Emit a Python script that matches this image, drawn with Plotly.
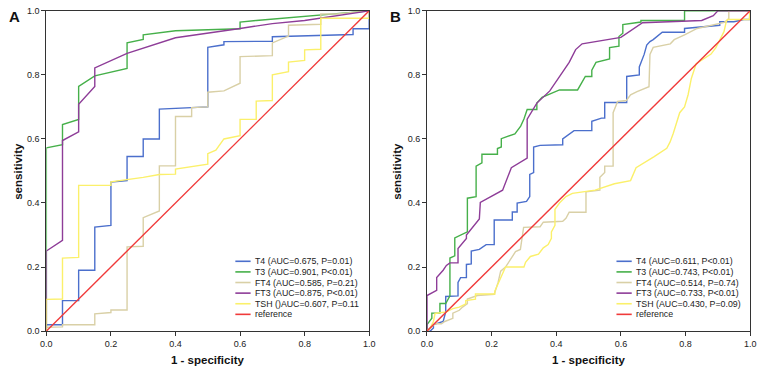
import plotly.graph_objects as go

# ---------------- data (fpr, tpr) ----------------
SERIES = ["T4", "T3", "FT4", "FT3", "TSH"]

A_T4 = [(0, 0), (0, 0.02), (0.05, 0.02), (0.05, 0.095), (0.10, 0.095), (0.10, 0.19), (0.15, 0.19),
        (0.15, 0.325), (0.20, 0.33), (0.20, 0.465), (0.25, 0.47), (0.25, 0.545), (0.30, 0.545),
        (0.30, 0.60), (0.35, 0.60), (0.35, 0.693), (0.50, 0.70), (0.50, 0.886), (0.55, 0.894),
        (0.55, 0.904), (0.70, 0.905), (0.70, 0.919), (0.95, 0.926), (0.95, 0.944), (1.0, 0.944), (1.0, 1.0)]
A_T3 = [(0, 0), (0, 0.572), (0.05, 0.582), (0.05, 0.645), (0.10, 0.661), (0.10, 0.764), (0.15, 0.797),
        (0.25, 0.82), (0.25, 0.90), (0.30, 0.911), (0.30, 0.925), (0.40, 0.938), (0.60, 0.944),
        (0.60, 0.965), (0.65, 0.970), (0.70, 0.974), (0.85, 0.988), (1.0, 1.0)]
A_FT4 = [(0, 0), (0, 0.012), (0.05, 0.013), (0.05, 0.02), (0.15, 0.02), (0.15, 0.054), (0.20, 0.058),
         (0.20, 0.066), (0.25, 0.066), (0.25, 0.263), (0.30, 0.265), (0.30, 0.354), (0.35, 0.375),
         (0.35, 0.516), (0.40, 0.516), (0.40, 0.67), (0.45, 0.67), (0.45, 0.698), (0.50, 0.70),
         (0.50, 0.746), (0.55, 0.75), (0.60, 0.774), (0.60, 0.857), (0.70, 0.86), (0.70, 0.90),
         (0.75, 0.921), (0.75, 0.955), (0.85, 0.958), (0.85, 0.99), (0.90, 0.99), (1.0, 1.0)]
A_FT3 = [(0, 0), (0, 0.25), (0.05, 0.283), (0.05, 0.595), (0.10, 0.622), (0.10, 0.708), (0.15, 0.764),
         (0.15, 0.822), (0.25, 0.867), (0.40, 0.916), (0.60, 0.945), (0.70, 0.96), (0.80, 0.97),
         (0.90, 0.985), (1.0, 1.0)]
A_TSH = [(0, 0), (0, 0.099), (0.05, 0.10), (0.05, 0.228), (0.10, 0.23), (0.10, 0.455), (0.20, 0.455),
         (0.20, 0.466), (0.30, 0.48), (0.35, 0.489), (0.40, 0.49), (0.40, 0.506), (0.50, 0.521),
         (0.50, 0.554), (0.525, 0.565), (0.55, 0.60), (0.60, 0.61), (0.60, 0.661), (0.65, 0.661),
         (0.65, 0.718), (0.70, 0.72), (0.70, 0.80), (0.75, 0.81), (0.75, 0.84), (0.80, 0.845),
         (0.80, 0.878), (0.85, 0.88), (0.85, 0.977), (1.0, 0.977), (1.0, 1.0)]

B_T4 = [(0, 0), (0.01, 0), (0.02, 0.01), (0.02, 0.02), (0.05, 0.03), (0.058, 0.06), (0.058, 0.108),
        (0.096, 0.11), (0.096, 0.152), (0.104, 0.167), (0.122, 0.167), (0.122, 0.208), (0.137, 0.21),
        (0.137, 0.25), (0.162, 0.255), (0.183, 0.27), (0.208, 0.27), (0.208, 0.347), (0.264, 0.347),
        (0.264, 0.372), (0.279, 0.372), (0.279, 0.40), (0.308, 0.405), (0.318, 0.42), (0.318, 0.489),
        (0.33, 0.495), (0.33, 0.575), (0.35, 0.58), (0.42, 0.582), (0.42, 0.60), (0.455, 0.626),
        (0.51, 0.626), (0.51, 0.655), (0.54, 0.665), (0.55, 0.665), (0.55, 0.714), (0.618, 0.714),
        (0.618, 0.795), (0.657, 0.80), (0.657, 0.825), (0.672, 0.864), (0.68, 0.893), (0.69, 0.904),
        (0.70, 0.91), (0.728, 0.933), (0.797, 0.933), (0.797, 0.945), (0.85, 0.95), (0.906, 0.955),
        (0.906, 0.966), (0.95, 0.966), (0.98, 0.973), (1.0, 0.973), (1.0, 1.0)]
B_T3 = [(0, 0), (0, 0.02), (0.015, 0.04), (0.015, 0.056), (0.04, 0.056), (0.04, 0.086), (0.058, 0.086),
        (0.071, 0.11), (0.071, 0.228), (0.086, 0.235), (0.086, 0.291), (0.125, 0.31), (0.125, 0.415),
        (0.152, 0.42), (0.152, 0.515), (0.17, 0.525), (0.17, 0.552), (0.218, 0.552), (0.218, 0.57),
        (0.23, 0.575), (0.23, 0.601), (0.272, 0.616), (0.29, 0.64), (0.30, 0.662), (0.31, 0.692),
        (0.34, 0.692), (0.34, 0.712), (0.356, 0.73), (0.41, 0.753), (0.466, 0.753), (0.49, 0.795),
        (0.51, 0.795), (0.51, 0.815), (0.523, 0.839), (0.565, 0.85), (0.565, 0.885), (0.594, 0.89),
        (0.594, 0.92), (0.606, 0.93), (0.606, 0.957), (0.662, 0.965), (0.662, 0.97), (0.797, 0.97),
        (0.797, 1.0), (1.0, 1.0)]
B_FT4 = [(0, 0), (0.01, 0.01), (0.025, 0.023), (0.045, 0.023), (0.055, 0.03), (0.08, 0.04),
         (0.08, 0.056), (0.1, 0.065), (0.11, 0.075), (0.125, 0.086), (0.125, 0.10), (0.156, 0.111),
         (0.208, 0.115), (0.22, 0.152), (0.228, 0.187), (0.243, 0.20), (0.259, 0.223), (0.274, 0.248),
         (0.289, 0.255), (0.299, 0.324), (0.35, 0.326), (0.36, 0.34), (0.42, 0.343), (0.43, 0.352),
         (0.44, 0.371), (0.492, 0.371), (0.492, 0.435), (0.535, 0.44), (0.535, 0.48), (0.55, 0.495),
         (0.55, 0.515), (0.576, 0.515), (0.576, 0.682), (0.59, 0.717), (0.617, 0.72), (0.63, 0.738),
         (0.65, 0.748), (0.66, 0.752), (0.687, 0.763), (0.69, 0.864), (0.70, 0.886), (0.753, 0.897),
         (0.765, 0.91), (0.797, 0.925), (0.836, 0.945), (0.92, 0.964), (0.934, 0.975), (0.934, 1.0),
         (1.0, 1.0)]
B_FT3 = [(0, 0), (0, 0.111), (0.03, 0.127), (0.03, 0.167), (0.05, 0.19), (0.06, 0.205), (0.071, 0.213),
         (0.096, 0.213), (0.096, 0.258), (0.122, 0.289), (0.122, 0.30), (0.137, 0.319), (0.162, 0.35),
         (0.165, 0.402), (0.234, 0.44), (0.261, 0.51), (0.31, 0.54), (0.31, 0.662), (0.34, 0.712),
         (0.38, 0.75), (0.41, 0.793), (0.44, 0.839), (0.46, 0.879), (0.48, 0.897), (0.60, 0.917),
         (0.667, 0.963), (0.85, 0.97), (0.886, 0.985), (0.90, 1.0), (1.0, 1.0)]
B_TSH = [(0, 0), (0.01, 0.01), (0.02, 0.03), (0.025, 0.055), (0.06, 0.06), (0.08, 0.07), (0.10, 0.075),
         (0.12, 0.085), (0.12, 0.095), (0.15, 0.10), (0.15, 0.116), (0.21, 0.116), (0.21, 0.125),
         (0.225, 0.16), (0.234, 0.182), (0.243, 0.20), (0.30, 0.20), (0.305, 0.215), (0.32, 0.233),
         (0.345, 0.24), (0.36, 0.26), (0.375, 0.27), (0.385, 0.29), (0.385, 0.31), (0.396, 0.33),
         (0.396, 0.38), (0.41, 0.40), (0.42, 0.41), (0.43, 0.42), (0.45, 0.43), (0.49, 0.435),
         (0.52, 0.44), (0.58, 0.46), (0.63, 0.47), (0.647, 0.51), (0.672, 0.525), (0.703, 0.545),
         (0.742, 0.571), (0.752, 0.59), (0.762, 0.617), (0.782, 0.682), (0.797, 0.70), (0.808, 0.738),
         (0.818, 0.789), (0.833, 0.835), (0.879, 0.865), (0.894, 0.885), (0.904, 0.905), (0.919, 0.935),
         (0.926, 0.966), (0.93, 0.973), (0.997, 0.973), (1.0, 1.0)]

REFERENCE = [(0, 0), (1, 1)]

LEGEND_A = ["T4 (AUC=0.675, P=0.01)", "T3 (AUC=0.901, P<0.01)", "FT4 (AUC=0.585, P=0.21)",
            "FT3 (AUC=0.875, P<0.01)", "TSH ()AUC=0.607, P=0.11", "reference"]
LEGEND_B = ["T4 (AUC=0.611, P<0.01)", "T3 (AUC=0.743, P<0.01)", "FT4 (AUC=0.514, P=0.74)",
            "FT3 (AUC=0.733, P<0.01)", "TSH (AUC=0.430, P=0.09)", "reference"]

TICKS = [0.0, 0.2, 0.4, 0.6, 0.8, 1.0]
TICK_LABELS = ["0.0", "0.2", "0.4", "0.6", "0.8", "1.0"]

COLORS = ["#4b6fcc", "#46b04a", "#d9d0a6", "#8e3d98", "#fbf06a", "#f03a3a"]

# ---------------- figure ----------------
W, H = 765, 376
FONT = "Liberation Sans, Arial, sans-serif"
fig = go.Figure()

panels = [
    ("x", "y", [A_T4, A_T3, A_FT4, A_FT3, A_TSH], LEGEND_A),
    ("x2", "y2", [B_T4, B_T3, B_FT4, B_FT3, B_TSH], LEGEND_B),
]
for xa, ya, curves, _ in panels:
    for pts, col in zip(curves + [REFERENCE], COLORS):
        fig.add_trace(go.Scatter(
            x=[p[0] for p in pts], y=[p[1] for p in pts], mode="lines",
            line=dict(color=col, width=1.4), xaxis=xa, yaxis=ya,
            showlegend=False, hoverinfo="skip"))

# domains in pixels
XA = (41, 369)
XB = (427.7, 756)
YT, YB = 6, 335


def px(v):
    return v / W


def py(v):
    return 1 - v / H


axis_common = dict(range=[0, 1], showgrid=False, zeroline=False, showline=True, mirror=True,
                   linecolor="#333333", linewidth=1, ticks="outside", ticklen=4, tickcolor="#333333",
                   tickvals=TICKS, ticktext=TICK_LABELS, tickfont=dict(family=FONT, size=9, color="#222222"),
                   fixedrange=True)

fig.update_layout(
    width=W, height=H, margin=dict(l=0, r=0, t=0, b=0),
    paper_bgcolor="white", plot_bgcolor="white", showlegend=False,
    xaxis=dict(domain=[px(XA[0]), px(XA[1])], anchor="y", **axis_common),
    yaxis=dict(domain=[py(YB), py(YT)], anchor="x", **axis_common),
    xaxis2=dict(domain=[px(XB[0]), px(XB[1])], anchor="y2", **axis_common),
    yaxis2=dict(domain=[py(YB), py(YT)], anchor="x2", **axis_common),
)

ann = []
shapes = []
for (x0, x1), label, legend, ycx in [(XA, "A", LEGEND_A, 12), (XB, "B", LEGEND_B, 397)]:
    cx = (x0 + x1) / 2
    ann.append(dict(x=px(cx), y=py(365), xref="paper", yref="paper", text="<b>1 - specificity</b>",
                    showarrow=False, font=dict(family=FONT, size=11.5, color="#111111"),
                    xanchor="center", yanchor="middle"))
    ann.append(dict(x=px(ycx), y=py((YT + YB) / 2), xref="paper", yref="paper", text="<b>sensitivity</b>",
                    showarrow=False, textangle=-90, font=dict(family=FONT, size=11.5, color="#111111"),
                    xanchor="center", yanchor="middle"))
    ann.append(dict(x=px(x0 - 32), y=py(12), xref="paper", yref="paper", text="<b>%s</b>" % label,
                    showarrow=False, font=dict(family=FONT, size=15, color="#111111"),
                    xanchor="center", yanchor="middle"))
    # legend (drawn compactly as in the original)
    sw0 = x0 + (192 if label == "A" else 192.5)
    for i, (txt, col) in enumerate(zip(legend, COLORS)):
        yy = 263.3 + i * 10.9
        shapes.append(dict(type="line", xref="paper", yref="paper", x0=px(sw0), x1=px(sw0 + 15.5),
                           y0=py(yy), y1=py(yy), line=dict(color=col, width=1.6)))
        ann.append(dict(x=px(sw0 + 17.5), y=py(yy), xref="paper", yref="paper", text=txt,
                        showarrow=False, font=dict(family=FONT, size=8.8, color="#222222"),
                        xanchor="left", yanchor="middle"))

fig.update_layout(annotations=ann, shapes=shapes)
fig.write_html("out.html", config=dict(displayModeBar=False, staticPlot=True),
               post_script="document.body.style.margin='0px';document.body.style.overflow='hidden';")
